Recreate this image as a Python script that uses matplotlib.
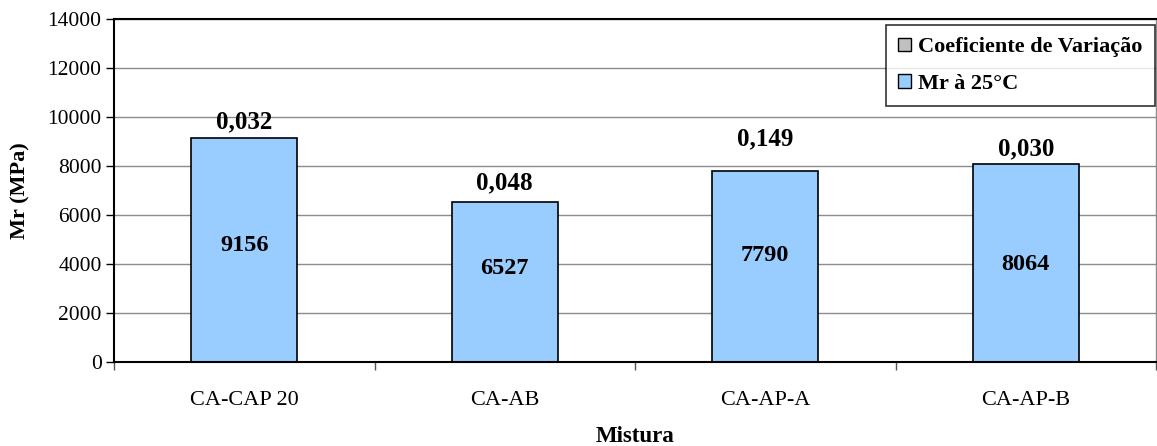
import matplotlib
matplotlib.use("Agg")
import matplotlib.pyplot as plt
from matplotlib.patches import Patch
import numpy as np

# Data
misturas = ["CA-CAP 20", "CA-AB", "CA-AP-A", "CA-AP-B"]
mr_25c = [9156, 6527, 7790, 8064]
coef_variacao = [0.032, 0.048, 0.149, 0.030]
y_ticks = [0, 2000, 4000, 6000, 8000, 10000, 12000, 14000]

# Label placement (pixel offsets)
cv_label_offset = [16, 19, 32, 16]
mr_label_offset = [4, 14, 11, -1]

plt.rcParams["font.family"] = ["Liberation Serif", "DejaVu Serif"]

fig = plt.figure(figsize=(11.57, 4.46), dpi=100)
ax = fig.add_axes([114 / 1157, 84 / 446, 1042 / 1157, 343 / 446])

x = np.arange(len(misturas))
bw = 0.405
blue = "#99CCFF"
grey = "#C0C0C0"

ax.set_axisbelow(True)
ax.yaxis.grid(True, color="#8c8c8c", linewidth=1.0)

bars = ax.bar(x, mr_25c, width=bw, color=blue, edgecolor="black", linewidth=1.2, zorder=2)
ax.bar(x, coef_variacao, bottom=mr_25c, width=bw, color=grey, edgecolor="none", zorder=2)

for xi, v, cv, o1, o2 in zip(x, mr_25c, coef_variacao, mr_label_offset, cv_label_offset):
    ax.annotate(f"{v}", xy=(xi, v / 2), xytext=(0, o1), textcoords="offset pixels",
                ha="center", va="center", fontsize=17.5, fontweight="bold", zorder=3)
    ax.annotate(f"{cv:.3f}".replace(".", ","), xy=(xi, v + cv), xytext=(0, o2),
                textcoords="offset pixels", ha="center", va="center",
                fontsize=18, fontweight="bold", zorder=3)

ax.set_xlim(-0.5, len(misturas) - 0.5)
ax.set_ylim(0, 14000)
ax.set_yticks(y_ticks)
ax.set_yticklabels([str(t) for t in y_ticks], fontsize=15.5)
ax.tick_params(axis="y", direction="out", length=6, width=1, pad=3)

ax.set_xticks(np.arange(-0.5, len(misturas) + 0.5, 1.0))
ax.set_xticklabels([])
ax.set_xticks(x, minor=True)
ax.set_xticklabels(misturas, minor=True, fontsize=16)
ax.tick_params(axis="x", which="major", direction="out", length=6, width=1, color="#555555")
ax.tick_params(axis="x", which="minor", length=0, pad=21)

for side in ["left", "bottom", "top"]:
    ax.spines[side].set_color("black")
    ax.spines[side].set_linewidth(1.5)
ax.spines["right"].set_color("#8c8c8c")
ax.spines["right"].set_linewidth(1.0)

ax.set_ylabel("Mr (MPa)", fontsize=16, fontweight="bold", labelpad=12)
fig.text(0.5 * (114 + 1157) / 1157, 1 - 437 / 446, "Mistura", ha="center", va="center",
         fontsize=16.5, fontweight="bold")

handles = [Patch(facecolor=grey, edgecolor="black", linewidth=1.0, label="Coeficiente de Variação"),
           Patch(facecolor=blue, edgecolor="black", linewidth=1.0, label="Mr à 25°C")]
leg = ax.legend(handles=handles, loc="upper right", bbox_to_anchor=(1155 / 1157, 1 - 25 / 446),
                bbox_transform=fig.transFigure, prop={"size": 16, "weight": "bold"},
                frameon=True, fancybox=False, handlelength=0.55, handleheight=0.55,
                handletextpad=0.35, labelspacing=0.75, borderpad=0.55, borderaxespad=0)
leg.get_frame().set_edgecolor("black")
leg.get_frame().set_linewidth(1.2)

fig.savefig("out.png", dpi=100)
